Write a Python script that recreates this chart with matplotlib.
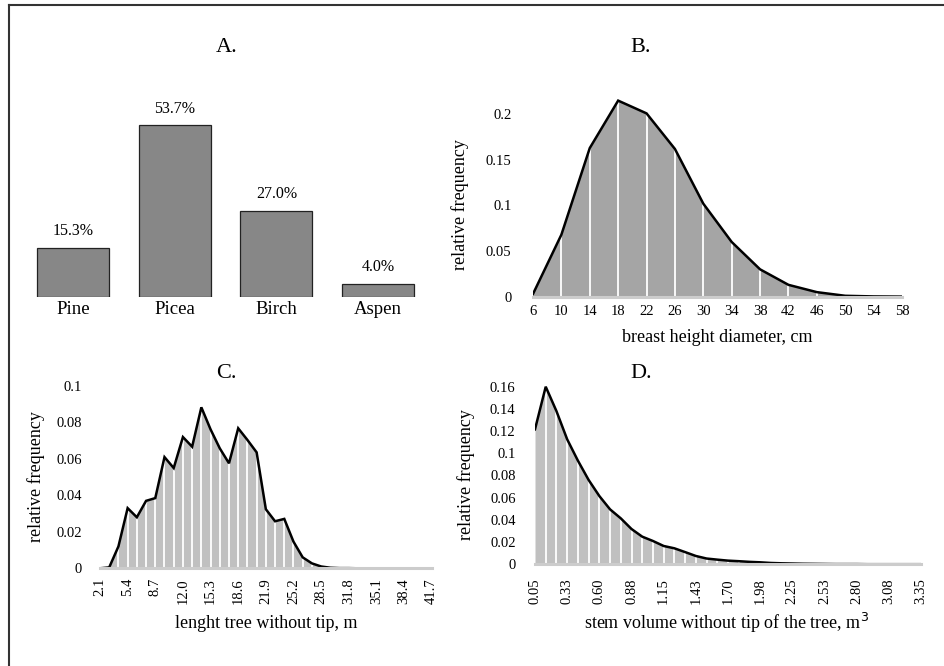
import matplotlib
matplotlib.use("Agg")
import matplotlib.pyplot as plt
from matplotlib.lines import Line2D

plt.rcParams['font.family'] = ['Liberation Serif', 'DejaVu Serif']

# ---------------- data ----------------
species = ["Pine", "Picea", "Birch", "Aspen"]
species_share = [15.3, 53.7, 27.0, 4.0]

dbh_cm = [6, 10, 14, 18, 22, 26, 30, 34, 38, 42, 46, 50, 54, 58]
dbh_freq = [0.003, 0.068, 0.163, 0.215, 0.201, 0.162, 0.102, 0.060, 0.030,
            0.013, 0.005, 0.001, 0.0003, 0.0001]
dbh_yticks = [0, 0.05, 0.1, 0.15, 0.2]
dbh_yticklabels = ["0", "0.05", "0.1", "0.15", "0.2"]

length_m = [2.1, 3.2, 4.3, 5.4, 6.5, 7.6, 8.7, 9.8, 10.9, 12.0, 13.1, 14.2, 15.3,
            16.4, 17.5, 18.6, 19.7, 20.8, 21.9, 23.0, 24.1, 25.2, 26.3, 27.4,
            28.5, 29.6, 30.7, 31.8, 32.9, 34.0, 35.1, 36.2, 37.3, 38.4, 39.5,
            40.6, 41.7]
length_freq = [0.0, 0.0005, 0.012, 0.033, 0.028, 0.037, 0.0385, 0.061, 0.055,
               0.072, 0.0667, 0.0883, 0.0762, 0.0658, 0.0576, 0.0768, 0.0704,
               0.0636, 0.0324, 0.0258, 0.0271, 0.0146, 0.006, 0.0027, 0.001,
               0.0003, 0.0001, 0.0001, 0.0, 0.0, 0.0, 0.0, 0.0, 0.0, 0.0, 0.0, 0.0]
length_ticklabels = ["2.1", "5.4", "8.7", "12.0", "15.3", "18.6", "21.9", "25.2",
                     "28.5", "31.8", "35.1", "38.4", "41.7"]
length_yticks = [0, 0.02, 0.04, 0.06, 0.08, 0.1]
length_yticklabels = ["0", "0.02", "0.04", "0.06", "0.08", "0.1"]

volume_freq = [0.1216, 0.160, 0.138, 0.1126, 0.0934, 0.0760, 0.0615, 0.0495,
               0.0414, 0.0318, 0.0249, 0.0210, 0.0165, 0.0144, 0.0110, 0.0075,
               0.0052, 0.0042, 0.0033, 0.0028, 0.0022, 0.0018, 0.0012, 0.0009,
               0.0007, 0.0005, 0.0004, 0.0003, 0.0002, 0.0002, 0.0002, 0.0001,
               0.0001, 0.0001, 0.0001, 0.0001, 0.0001]
volume_ticklabels = ["0.05", "0.33", "0.60", "0.88", "1.15", "1.43", "1.70",
                     "1.98", "2.25", "2.53", "2.80", "3.08", "3.35"]
volume_yticks = [0, 0.02, 0.04, 0.06, 0.08, 0.1, 0.12, 0.14, 0.16]
volume_yticklabels = ["0", "0.02", "0.04", "0.06", "0.08", "0.1", "0.12", "0.14", "0.16"]

# ---------------- figure ----------------
W, H = 944, 666
fig = plt.figure(figsize=(W / 100, H / 100), dpi=100)


def ax_px(x0, x1, yb, yt):
    return fig.add_axes([x0 / W, 1 - yb / H, (x1 - x0) / W, (yb - yt) / H])


def ftext(x, y, s, **kw):
    fig.text(x / W, 1 - y / H, s, ha='center', va='center', **kw)


TICK = 10.5
LAB = 13
TIT = 16

# border
fig.add_artist(Line2D([9 / W, 1], [1 - 5 / H, 1 - 5 / H], color='#333333', lw=1.5))
fig.add_artist(Line2D([9 / W, 9 / W], [1 - 5 / H, 0], color='#333333', lw=1.5))

# ---------- A ----------
axA = ax_px(22, 429, 296.7, 296.7 - 60 * 3.19)
xa = list(range(len(species)))
axA.bar(xa, species_share, width=0.71, color='#878787', edgecolor='#222222', linewidth=0.9)
for xi, v in zip(xa, species_share):
    axA.annotate(f"{v:.1f}%", (xi, v), xytext=(0, 12), textcoords='offset points',
                 ha='center', va='center', fontsize=11.5)
axA.set_xlim(-0.5, len(species) - 0.5)
axA.set_ylim(0, 60)
axA.set_xticks(xa)
axA.set_xticklabels(species, fontsize=13.5)
axA.set_yticks([])
axA.tick_params(axis='x', length=0, pad=3)
for s in axA.spines.values():
    s.set_visible(False)
ftext(227, 48, "A.", fontsize=TIT)


def area_panel(ax, x, y, fill):
    ax.fill_between(x, y, 0, color=fill, linewidth=0, zorder=1)
    ax.vlines(x[1:-1], 0, y[1:-1], color='white', lw=1.3, zorder=2)
    ax.plot(x, y, color='black', lw=1.8, zorder=3, solid_joinstyle='miter')
    for s in ['left', 'top', 'right']:
        ax.spines[s].set_visible(False)
    ax.spines['bottom'].set_color('#cccccc')
    ax.spines['bottom'].set_linewidth(2.2)
    ax.spines['bottom'].set_zorder(4)
    ax.tick_params(length=0, labelsize=TICK)


# ---------- B ----------
b_top = 296.7 - 0.22 * 912
axB = ax_px(533, 902, 296.7, b_top)
area_panel(axB, dbh_cm, dbh_freq, '#a5a5a5')
axB.set_xlim(dbh_cm[0], dbh_cm[-1])
axB.set_ylim(0, 0.22)
axB.set_xticks(dbh_cm)
axB.set_xticklabels([str(v) for v in dbh_cm])
axB.set_yticks(dbh_yticks)
axB.set_yticklabels(dbh_yticklabels)
axB.tick_params(axis='y', pad=15.5)
axB.tick_params(axis='x', pad=6)
ftext(641, 47, "B.", fontsize=TIT)
ftext(717, 338, "breast height diameter, cm", fontsize=LAB)
ftext(460, 205, "relative frequency", fontsize=LAB, rotation=90)

# ---------- C ----------
axC = ax_px(100, 431.7, 568.3, 386)
xc = list(range(len(length_m)))
area_panel(axC, xc, length_freq, '#c0c0c0')
axC.set_xlim(0, len(length_m) - 1)
axC.set_ylim(0, 0.1)
axC.set_xticks(xc[::3])
axC.set_xticklabels(length_ticklabels, rotation=90)
axC.set_yticks(length_yticks)
axC.set_yticklabels(length_yticklabels)
axC.tick_params(axis='y', pad=13)
axC.tick_params(axis='x', pad=7)
ftext(226, 374, "C.", fontsize=TIT)
ftext(266, 623, "lenght tree without tip, m", fontsize=LAB)
ftext(36, 477, "relative frequency", fontsize=LAB, rotation=90)

# ---------- D ----------
d_scale = 1110
axD = ax_px(535, 921, 564.3, 564.3 - 0.165 * d_scale)
xd = list(range(len(volume_freq)))
area_panel(axD, xd, volume_freq, '#c0c0c0')
axD.set_xlim(0, len(volume_freq) - 1)
axD.set_ylim(0, 0.165)
axD.set_xticks(xd[::3])
axD.set_xticklabels(volume_ticklabels, rotation=90)
axD.set_yticks(volume_yticks)
axD.set_yticklabels(volume_yticklabels)
axD.tick_params(axis='y', pad=14)
axD.tick_params(axis='x', pad=10)
ftext(641, 373, "D.", fontsize=TIT)
ftext(727, 623, "stem volume without tip of the tree, m$^3$", fontsize=LAB)
ftext(466, 475, "relative frequency", fontsize=LAB, rotation=90)

fig.savefig("out.png", dpi=100)
